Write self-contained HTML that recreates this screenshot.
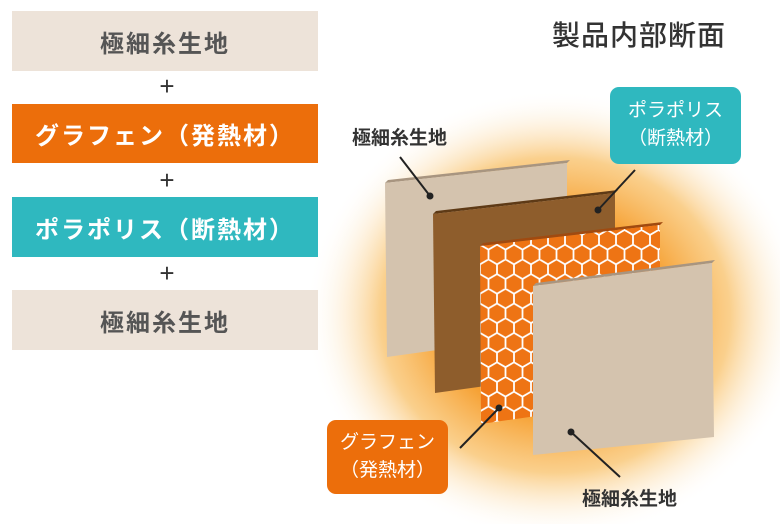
<!DOCTYPE html>
<html><head><meta charset="utf-8"><style>
html,body{margin:0;padding:0;background:#fff;}
body{width:780px;height:524px;overflow:hidden;position:relative;font-family:"Liberation Sans","Noto Sans CJK JP",sans-serif;}
.box{position:absolute;left:12px;width:306px;display:flex;align-items:center;justify-content:center;font-size:24px;font-weight:bold;letter-spacing:2px;}
.plus{position:absolute;left:155px;width:24px;text-align:center;font-size:26px;color:#333;line-height:20px;}
</style></head><body>
<svg width="780" height="524" style="position:absolute;left:0;top:0">
<defs>
<radialGradient id="g" cx="555" cy="315" r="1" gradientTransform="translate(555 315) scale(250 225) translate(-555 -315)" gradientUnits="userSpaceOnUse">
<stop offset="0" stop-color="#f07a10"/>
<stop offset="0.4" stop-color="#f5961f"/>
<stop offset="0.7" stop-color="#f9c470" stop-opacity="0.8"/>
<stop offset="1" stop-color="#fff" stop-opacity="0"/>
</radialGradient>
<pattern id="hex" width="17" height="29.4" patternUnits="userSpaceOnUse" x="480" y="230">
<rect width="17" height="29.4" fill="#ee7414"/>
<path d="M8.5 0 L17 4.9 L17 14.7 L8.5 19.6 L0 14.7 L0 4.9 Z M8.5 19.6 L8.5 29.4" fill="none" stroke="#fff" stroke-width="1.8"/>
</pattern>
</defs>
<rect x="0" y="0" width="780" height="524" fill="url(#g)"/>
<polygon points="385,183 567,163 570,160 388,180" fill="#a89580"/>
<polygon points="385,183 567,163 567,332 387,357" fill="#d4c3ae"/>
<polygon points="433,214 615,193 618,190 436,211" fill="#5e3a16"/>
<polygon points="433,214 615,193 615,368 435,393" fill="#8e5d2c"/>
<polygon points="480,246 660,225 663,222 483,243" fill="#a04a10"/>
<polygon points="480,246 660,225 660,398 481,424" fill="url(#hex)"/>
<polygon points="533,286 712,263 715,260 536,283" fill="#a89580"/>
<polygon points="533,286 712,263 714,437 533,455" fill="#d4c3ae"/>
<line x1="400" y1="157" x2="430" y2="196" stroke="#222" stroke-width="2"/><circle cx="430" cy="196" r="3.5" fill="#222"/>
<line x1="635" y1="170" x2="598" y2="210" stroke="#222" stroke-width="2"/><circle cx="598" cy="210" r="3.5" fill="#222"/>
<line x1="460" y1="448" x2="499" y2="408" stroke="#222" stroke-width="2"/><circle cx="499" cy="408" r="3.5" fill="#222"/>
<line x1="571" y1="432" x2="620" y2="477" stroke="#222" stroke-width="2"/><circle cx="571" cy="432" r="3.5" fill="#222"/>
</svg>
<div class="box" style="top:11px;height:60px;background:#ede3d9;color:#555;">極細糸生地</div>
<div class="plus" style="top:76px">+</div>
<div class="box" style="top:104px;height:59px;background:#ec6e0b;color:#fff;">グラフェン（発熱材）</div>
<div class="plus" style="top:170px">+</div>
<div class="box" style="top:197px;height:60px;background:#2fb8bf;color:#fff;">ポラポリス（断熱材）</div>
<div class="plus" style="top:263px">+</div>
<div class="box" style="top:290px;height:60px;background:#ede3d9;color:#555;">極細糸生地</div>
<div style="position:absolute;left:552px;top:14px;font-size:28px;color:#333;letter-spacing:1px;font-weight:500;">製品内部断面</div>
<div style="position:absolute;left:352px;top:123px;font-size:19px;color:#333;font-weight:bold;">極細糸生地</div>
<div style="position:absolute;left:610px;top:87px;width:131px;height:77px;background:#2fb8bf;border-radius:9px;color:#fff;font-size:19px;text-align:center;line-height:28px;padding-top:10px;box-sizing:border-box;">ポラポリス<br>（断熱材）</div>
<div style="position:absolute;left:327px;top:420px;width:121px;height:74px;background:#ec6e0b;border-radius:9px;color:#fff;font-size:19px;text-align:center;line-height:28px;padding-top:9px;box-sizing:border-box;">グラフェン<br>（発熱材）</div>
<div style="position:absolute;left:582px;top:484px;font-size:19px;color:#333;font-weight:bold;">極細糸生地</div>
</body></html>
